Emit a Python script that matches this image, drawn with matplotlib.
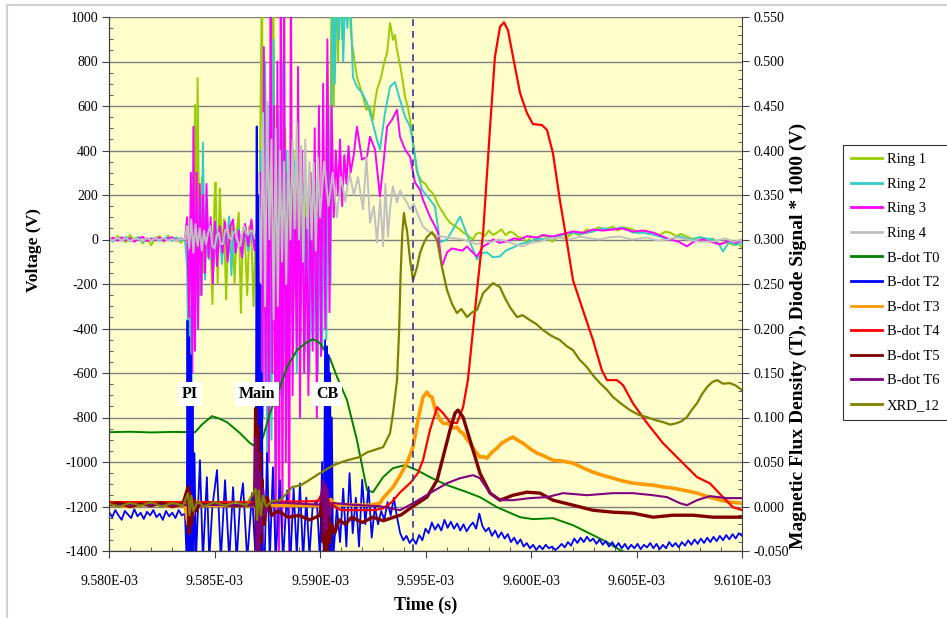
import numpy as np
import matplotlib
matplotlib.use('Agg')
import matplotlib.pyplot as plt
from matplotlib.ticker import MultipleLocator, FuncFormatter
from matplotlib.lines import Line2D

plt.rcParams['font.family'] = ['Liberation Serif', 'DejaVu Serif']
plt.rcParams['axes.unicode_minus'] = False

# ---------------- data (time in microseconds, rings in V, B-dot/XRD in T / V*1000) -------------
RING1 = [(9580.0,10),(9580.2,-8),(9580.4,15),(9580.6,2),(9580.8,-12),(9581.0,20),(9581.2,-5),(9581.4,12),(9581.6,-18),(9581.8,8),(9582.0,-25),(9582.2,5),(9582.4,15),(9582.6,-10),(9582.8,18),(9583.0,-5),(9583.2,10),(9583.4,-15),(9583.6,5),
 (9583.7,-60),(9583.8,-300),(9583.9,150),(9584.0,-420),(9584.08,605),(9584.13,-150),(9584.2,726),(9584.3,-250),(9584.4,280),(9584.5,-150),(9584.6,120),(9584.7,-80),(9584.8,60),(9584.9,-290),(9585.0,180),(9585.05,256),(9585.15,-200),(9585.25,230),(9585.35,-60),(9585.45,90),(9585.55,-270),(9585.65,40),(9585.75,-60),(9585.85,80),(9585.95,-200),(9586.05,30),(9586.15,121),(9586.25,-330),(9586.35,50),(9586.45,-20),(9586.55,-250),(9586.65,60),(9586.75,10),(9586.85,-300),(9586.95,20),
 (9587.05,-100),(9587.15,300),(9587.25,1200),(9587.32,-600),(9587.4,700),(9587.5,-900),(9587.6,400),(9587.7,-400),(9587.78,1200),(9587.88,-200),(9587.95,600),(9588.05,-1020),(9588.15,300),(9588.25,-700),(9588.35,500),(9588.45,-500),(9588.55,200),(9588.65,-327),(9588.75,400),(9588.85,-300),(9588.95,250),(9589.05,-250),(9589.15,350),(9589.25,-150),(9589.35,200),(9589.45,-300),(9589.55,300),(9589.65,-100),(9589.75,130),(9589.85,-200),(9589.95,250),(9590.05,-300),
 (9590.15,400),(9590.25,-200),(9590.35,800),(9590.45,-100),(9590.55,1200),(9590.65,600),(9590.75,1200),(9590.85,800),(9590.95,1200),(9591.05,900),(9591.15,1200),(9591.25,1000),(9591.35,1200),(9591.45,950),
 (9591.52,879),(9591.75,731),(9592.04,641),(9592.2,583),(9592.35,600),(9592.51,538),(9592.6,614),(9592.7,672),(9592.9,731),(9593.05,800),(9593.18,838),(9593.32,973),(9593.46,897),(9593.55,920),(9593.65,852),(9593.8,780),(9593.89,731),(9594.03,641),(9594.15,600),(9594.27,538),(9594.41,435),(9594.6,300),(9594.83,260),(9595.0,250),(9595.15,225),(9595.31,211),(9595.45,190),(9595.55,166),(9595.7,140),(9595.83,121),(9596.0,95),(9596.16,76),(9596.4,60),(9596.64,45),(9596.8,30),(9596.97,22),(9597.1,10),(9597.25,0),(9597.4,25),(9597.58,31),(9597.8,15),(9598.0,40),(9598.2,20),(9598.39,31),(9598.6,45),(9598.8,20),(9599.0,35),(9599.15,31),(9599.4,10),(9599.62,9),(9599.8,-15),(9600.0,15),(9600.3,0),(9600.5,20),(9600.76,9),(9601.0,-10),(9601.3,15),(9601.5,5),(9601.71,9),(9602.0,30),(9602.3,20),(9602.65,45),(9602.9,35),(9603.2,55),(9603.5,45),(9603.89,58),(9604.1,40),(9604.4,55),(9604.83,45),(9605.1,30),(9605.4,40),(9605.78,31),(9606.1,20),(9606.35,35),(9606.59,31),(9606.9,15),(9607.1,25),(9607.39,13),(9607.7,0),(9608.0,10),(9608.34,-9),(9608.6,5),(9608.9,-20),(9609.29,-13),(9609.6,-25),(9609.8,-15),(9610.0,-36)]

RING2 = [(9580.0,5),(9580.2,-10),(9580.4,8),(9580.6,-5),(9580.8,12),(9581.0,-8),(9581.2,3),(9581.4,10),(9581.6,-12),(9581.8,6),(9582.0,-4),(9582.2,9),(9582.4,-7),(9582.6,4),(9582.8,11),(9583.0,-6),(9583.2,8),(9583.4,-3),(9583.6,2),
 (9583.7,-120),(9583.78,-704),(9583.85,-300),(9583.92,-650),(9584.0,50),(9584.08,-500),(9584.15,150),(9584.22,-350),(9584.3,180),(9584.38,-250),(9584.45,435),(9584.55,-180),(9584.65,120),(9584.75,-90),(9584.85,60),(9584.95,-140),(9585.05,80),(9585.15,-60),(9585.25,50),(9585.35,-110),(9585.45,30),(9585.55,-20),(9585.7,103),(9585.8,-160),(9585.9,40),(9586.0,-60),(9586.15,50),(9586.3,-80),(9586.45,40),(9586.6,-50),(9586.75,30),(9586.9,-40),(9587.0,20),
 (9587.1,-300),(9587.2,400),(9587.3,-800),(9587.4,800),(9587.5,-1100),(9587.6,600),(9587.7,-900),(9587.8,897),(9587.9,-1100),(9588.0,600),(9588.1,-700),(9588.2,800),(9588.3,-500),(9588.4,400),(9588.5,-800),(9588.6,300),(9588.7,-400),(9588.8,350),(9588.9,-600),(9589.0,200),(9589.1,-300),(9589.2,250),(9589.3,-500),(9589.4,150),(9589.5,-600),(9589.6,100),(9589.7,-450),(9589.8,200),(9589.9,-600),(9590.0,100),(9590.1,-500),(9590.2,300),(9590.3,-448),(9590.4,600),(9590.5,-200),(9590.6,1200),(9590.7,700),(9590.8,1200),(9590.9,900),(9591.0,1200),(9591.1,800),(9591.2,1100),(9591.3,950),(9591.4,1200),
 (9591.56,731),(9591.75,686),(9591.99,659),(9592.23,614),(9592.46,538),(9592.7,448),(9592.84,404),(9593.08,569),(9593.32,686),(9593.55,708),(9593.79,628),(9594.03,552),(9594.27,507),(9594.41,435),(9594.6,314),(9594.83,224),(9595.21,179),(9595.45,148),(9595.69,-13),(9596.02,0),(9596.3,45),(9596.64,103),(9596.87,45),(9597.11,-13),(9597.44,-90),(9597.7,-60),(9597.91,-58),(9598.2,-80),(9598.53,-76),(9598.8,-50),(9599.15,-36),(9599.5,-20),(9599.95,-9),(9600.3,5),(9600.7,0),(9601.04,13),(9601.5,20),(9601.99,31),(9602.4,25),(9602.94,36),(9603.4,50),(9603.89,45),(9604.3,55),(9604.83,31),(9605.3,30),(9605.78,22),(9606.2,10),(9606.59,0),(9607.0,15),(9607.54,0),(9608.0,10),(9608.63,0),(9608.9,-20),(9609.1,-54),(9609.4,-10),(9609.7,-25),(9610.0,-13)]

RING3 = [(9580.0,0),(9580.2,8),(9580.4,-6),(9580.6,10),(9580.8,-4),(9581.0,6),(9581.2,-10),(9581.4,4),(9581.6,12),(9581.8,-8),(9582.0,5),(9582.2,-3),(9582.4,9),(9582.6,-6),(9582.8,4),(9583.0,10),(9583.2,-8),(9583.4,6),(9583.6,-2),
 (9583.7,100),(9583.8,-350),(9583.88,300),(9583.95,-600),(9584.0,507),(9584.07,-500),(9584.15,300),(9584.22,-400),(9584.3,250),(9584.38,-250),(9584.45,200),(9584.55,-150),(9584.62,250),(9584.72,-80),(9584.82,100),(9584.92,-200),(9585.02,80),(9585.12,-120),(9585.25,60),(9585.38,-60),(9585.5,80),(9585.62,-100),(9585.75,60),(9585.88,90),(9586.0,-60),(9586.15,40),(9586.3,-80),(9586.45,70),(9586.6,-30),(9586.75,90),(9586.9,-50),(9587.0,40),
 (9587.1,-200),(9587.18,300),(9587.26,-900),(9587.34,865),(9587.42,-700),(9587.5,500),(9587.58,-1000),(9587.66,1200),(9587.74,-600),(9587.82,600),(9587.9,-1400),(9587.98,800),(9588.06,-1450),(9588.14,1100),(9588.22,-1300),(9588.3,1200),(9588.38,-1000),(9588.46,300),(9588.54,-1450),(9588.62,1200),(9588.7,-700),(9588.8,200),(9588.9,-500),(9588.96,776),(9589.05,-800),(9589.15,400),(9589.25,-600),(9589.35,100),(9589.45,-700),(9589.55,300),(9589.65,-500),(9589.75,500),(9589.85,-800),(9589.95,600),(9590.05,-524),(9590.15,700),(9590.25,-400),(9590.35,900),(9590.45,-327),(9590.55,600),(9590.65,100),(9590.75,400),(9590.85,200),(9590.95,450),(9591.05,150),(9591.15,380),(9591.25,250),(9591.35,420),(9591.45,300),(9591.6,380),
 (9591.75,507),(9591.99,359),(9592.23,372),(9592.37,462),(9592.61,404),(9592.84,193),(9592.99,327),(9593.18,507),(9593.41,538),(9593.65,583),(9593.79,462),(9594.03,404),(9594.27,372),(9594.5,256),(9594.74,224),(9594.88,179),(9595.21,103),(9595.45,60),(9595.59,31),(9595.78,-121),(9596.02,-58),(9596.25,-40),(9596.49,-45),(9596.75,-50),(9596.97,-31),(9597.2,-55),(9597.44,-76),(9597.73,-31),(9597.95,-20),(9598.2,0),(9598.5,-15),(9598.86,-9),(9599.2,5),(9599.48,0),(9599.8,15),(9600.28,9),(9600.6,20),(9601.04,13),(9601.5,25),(9601.99,36),(9602.5,30),(9602.94,45),(9603.4,40),(9603.89,45),(9604.3,50),(9604.83,36),(9605.3,40),(9605.78,31),(9606.2,15),(9606.59,0),(9607.0,-10),(9607.39,-31),(9607.7,-10),(9608.15,0),(9608.5,-10),(9608.96,-22),(9609.4,-5),(9609.7,-15),(9610.0,0)]

RING4 = [(9580.0,5),(9580.2,-5),(9580.4,8),(9580.6,-3),(9580.8,6),(9581.0,-8),(9581.2,4),(9581.4,2),(9581.6,-6),(9581.8,7),(9582.0,-4),(9582.2,5),(9582.4,-2),(9582.6,8),(9582.8,-5),(9583.0,3),(9583.2,-7),(9583.4,4),(9583.6,0),
 (9583.7,60),(9583.8,-40),(9583.9,90),(9584.0,-60),(9584.1,70),(9584.2,-30),(9584.3,50),(9584.4,-50),(9584.5,40),(9584.6,-20),(9584.7,30),(9584.8,60),(9584.9,-30),(9585.0,-40),(9585.1,20),(9585.2,30),(9585.3,-20),(9585.4,-20),(9585.5,40),(9585.6,50),(9585.7,10),(9585.8,0),(9585.9,30),(9586.0,40),(9586.1,-10),(9586.2,-30),(9586.3,20),(9586.4,60),(9586.5,30),(9586.6,20),(9586.7,40),(9586.8,40),(9586.9,10),(9587.0,0),
 (9587.1,300),(9587.2,-200),(9587.3,569),(9587.4,-300),(9587.5,620),(9587.6,0),(9587.7,450),(9587.8,-360),(9587.9,500),(9588.0,-300),(9588.1,400),(9588.2,-100),(9588.3,350),(9588.4,-200),(9588.5,400),(9588.6,0),(9588.7,450),(9588.8,50),(9588.9,525),(9589.0,0),(9589.1,420),(9589.2,-100),(9589.3,450),(9589.4,50),(9589.5,350),(9589.6,0),(9589.7,345),(9589.8,-50),(9589.9,370),(9590.0,100),(9590.2,350),(9590.4,150),(9590.6,300),(9590.8,100),(9591.0,280),(9591.2,170),(9591.4,300),(9591.6,200),(9591.8,280),(9592.04,135),(9592.2,372),(9592.37,76),(9592.55,150),(9592.7,-13),(9592.85,180),(9592.99,-31),(9593.1,250),(9593.22,13),(9593.32,135),(9593.45,240),(9593.65,166),(9593.8,220),(9593.93,193),(9594.1,170),(9594.27,135),(9594.45,160),(9594.6,121),(9594.88,58),(9595.1,40),(9595.36,22),(9595.7,15),(9596.02,9),(9596.4,5),(9596.78,0),(9597.1,-10),(9597.44,-22),(9597.8,-5),(9598.06,-13),(9598.5,0),(9598.86,-9),(9599.2,-20),(9599.62,-31),(9600.0,-15),(9600.43,-9),(9600.9,5),(9601.37,9),(9601.8,0),(9602.32,13),(9602.8,5),(9603.27,0),(9603.7,10),(9604.22,13),(9604.8,0),(9605.5,9),(9606.0,-5),(9606.45,0),(9606.9,10),(9607.39,0),(9608.0,-10),(9608.63,-9),(9609.2,5),(9609.6,-10),(9610.0,0)]

T0 = [(9580.0,0.0835),(9581.0,0.0840),(9582.0,0.0832),(9583.0,0.0838),(9584.08,0.0835),(9584.4,0.092),(9584.88,0.1015),(9585.2,0.099),(9585.59,0.0948),(9586.21,0.0824),(9586.68,0.0712),(9587.01,0.0667),(9587.3,0.078),(9587.63,0.105),(9588.1,0.134),(9588.44,0.1566),(9588.91,0.1757),(9589.38,0.1847),(9589.67,0.188),(9590.0,0.1836),(9590.47,0.1667),(9590.81,0.1454),(9591.28,0.1195),(9591.75,0.0746),(9592.23,0.0183),(9592.51,0.0161),(9592.99,0.033),(9593.46,0.0431),(9594.03,0.0464),(9594.6,0.0408),(9595.21,0.033),(9596.02,0.024),(9596.97,0.0161),(9597.58,0.0105),(9598.39,-0.0008),(9599.48,-0.012),(9600.09,-0.0142),(9601.04,-0.0131),(9601.99,-0.021),(9602.94,-0.0322),(9603.6,-0.040),(9604.22,-0.049),(9604.93,-0.056),(9610.0,-0.08)]

T2_BASE = [-0.006,-0.012,-0.004,-0.010,-0.015,-0.005,-0.009,-0.013,-0.003,-0.011,-0.007,-0.014,-0.006,-0.010,-0.004,-0.012,-0.008,-0.015,-0.005,-0.011,-0.007,-0.013,-0.004,-0.010,-0.008]
T2_BURST = [(9583.68,-0.06),(9583.72,0.209),(9583.76,-0.06),(9583.80,0.19),(9583.84,-0.06),(9583.88,0.17),(9583.92,-0.06),(9583.96,0.12),(9584.0,-0.06),(9584.05,0.06),(9584.12,-0.06),(9584.31,0.052),(9584.45,-0.06),(9584.64,0.033),(9584.75,-0.06),(9584.9,0.0),(9585.12,0.041),(9585.3,-0.06),(9585.5,0.0296),(9585.7,-0.06),(9585.88,0.0217),(9586.05,-0.06),(9586.2,0.0),(9586.35,0.026),(9586.55,-0.06),(9586.78,0.015),(9586.95,-0.06),
 (9587.0,0.427),(9587.03,-0.06),(9587.07,0.35),(9587.11,-0.06),(9587.15,0.25),(9587.19,-0.06),(9587.24,0.15),(9587.3,-0.06),(9587.38,-0.06),(9587.49,0.06),(9587.62,-0.06),(9587.77,0.044),(9587.9,-0.06),(9588.1,0.0296),(9588.25,-0.06),(9588.44,0.018),(9588.6,-0.06),(9588.75,0.02),(9588.9,-0.055),(9589.05,0.026),(9589.2,-0.06),(9589.35,0.01),(9589.5,-0.055),(9589.65,0.0),(9589.85,0.007),(9590.0,-0.06),
 (9590.1,0.05),(9590.18,-0.06),(9590.24,0.187),(9590.28,-0.06),(9590.32,0.18),(9590.36,-0.06),(9590.40,0.17),(9590.44,-0.06),(9590.48,0.15),(9590.52,-0.06),(9590.56,0.1),(9590.62,-0.06)]
T2_TAIL = [0.0,-0.04,0.02,-0.045,0.0375,-0.03,0.01,-0.045,0.03,-0.02,0.022,-0.035,
 0.0,-0.02,-0.005,-0.015,0.005,-0.01,0.01,
 -0.012,-0.03,-0.038,-0.033,-0.041,-0.036,-0.042,-0.032,
 -0.038,-0.025,-0.03,-0.018,-0.026,-0.02,-0.027,-0.015,-0.024,-0.017,-0.025,-0.019,-0.027,-0.02,-0.028,-0.022,-0.018,-0.025,-0.008,
 -0.022,-0.028,-0.024,-0.033,-0.027,-0.035,-0.029,-0.036,-0.031,-0.04,-0.035,-0.042,-0.037,-0.045,-0.041,-0.047,-0.043,-0.049,-0.044,
 -0.048,-0.043,-0.047,-0.045,-0.049,-0.046,-0.042,-0.046,-0.04,
 -0.044,-0.036,-0.041,-0.035,-0.04,-0.034,-0.039,-0.036,-0.042,-0.037,
 -0.043,-0.039,-0.045,-0.04,-0.046,-0.041,-0.047,-0.042,-0.048,-0.043,-0.047,-0.042,-0.048,-0.043,-0.046,-0.041,-0.047,-0.042,-0.048,-0.043,-0.047,-0.04,-0.045,-0.041,-0.046,
 -0.04,-0.044,-0.038,-0.043,-0.037,-0.042,-0.036,-0.041,-0.035,-0.04,-0.034,-0.039,-0.033,-0.038,-0.032,-0.037,-0.031,-0.036,-0.03,-0.033]

T3 = [(9580.0,0.002),(9581.0,0.0),(9582.0,0.003),(9583.0,0.0),(9583.6,0.002),(9583.75,-0.02),(9583.85,0.012),(9583.95,-0.01),(9584.1,0.005),(9584.3,0.001),(9587.0,0.001),(9587.1,0.015),(9587.2,-0.015),(9587.3,0.01),(9587.45,0.001),(9590.2,0.001),(9590.3,0.012),(9590.4,-0.01),(9590.5,0.008),(9590.7,0.002),(9592.37,0.0015),(9592.84,0.0037),(9592.99,0.0094),(9593.46,0.0217),(9593.8,0.035),(9594.12,0.0487),(9594.41,0.0667),(9594.64,0.097),(9594.88,0.1229),
 (9595.07,0.1285),(9595.2,0.124),(9595.31,0.1229),(9595.45,0.11),(9595.55,0.1049),(9595.7,0.097),(9595.83,0.0937),(9596.0,0.0935),(9596.16,0.0914),(9596.3,0.088),(9596.49,0.0892),(9596.65,0.084),(9596.78,0.0824),(9596.95,0.076),(9597.11,0.0712),(9597.3,0.064),(9597.58,0.0554),(9597.75,0.056),(9597.91,0.0543),(9598.15,0.061),(9598.39,0.0656),(9598.6,0.071),(9598.86,0.0746),(9599.0,0.0765),(9599.15,0.078),(9599.4,0.074),(9599.62,0.0712),(9599.95,0.065),(9600.28,0.06),(9600.6,0.057),(9601.04,0.052),(9601.5,0.051),(9601.99,0.0487),(9602.5,0.043),(9602.94,0.0386),(9603.4,0.035),(9603.89,0.0318),(9604.3,0.029),(9604.83,0.0262),(9605.3,0.025),(9605.78,0.024),(9606.25,0.022),(9606.73,0.0206),(9607.3,0.018),(9607.87,0.015),(9608.25,0.012),(9608.63,0.0094),(9609.0,0.007),(9609.43,0.0049),(9610.0,0.0037)]

T4 = [(9580.0,0.005),(9583.7,0.005),(9583.8,0.012),(9583.9,-0.002),(9584.0,0.005),(9587.0,0.005),(9587.05,0.015),(9587.1,-0.005),(9587.2,0.005),(9589.9,0.006),(9590.1,0.015),(9590.2,-0.008),(9590.3,0.012),(9590.4,-0.005),(9590.5,0.004),(9590.8,-0.002),(9591.0,-0.004),(9592.6,-0.004),(9593.0,-0.002),(9593.4,0.0049),(9593.8,0.016),(9594.3,0.027),(9594.64,0.0375),(9594.88,0.052),(9595.21,0.0858),(9595.55,0.1116),(9595.83,0.105),(9596.16,0.0948),(9596.49,0.0937),(9596.78,0.1116),(9597.01,0.142),(9597.25,0.198),(9597.49,0.254),(9597.73,0.307),(9598.06,0.4264),(9598.29,0.505),(9598.53,0.539),(9598.72,0.544),(9598.91,0.535),(9599.15,0.505),(9599.48,0.4646),(9599.81,0.442),(9600.09,0.4297),(9600.52,0.4286),(9600.76,0.423),(9601.04,0.397),(9601.37,0.344),(9601.71,0.296),(9601.99,0.2544),(9602.46,0.2207),(9602.94,0.187),(9603.36,0.153),(9603.6,0.142),(9604.08,0.142),(9604.36,0.1364),(9604.83,0.116),(9605.5,0.0937),(9606.26,0.071),(9607.06,0.052),(9607.87,0.033),(9608.48,0.026),(9609.1,0.0105),(9609.57,-0.0008),(9610.0,-0.004)]

T5 = [(9580.0,0.002),(9580.5,0.004),(9581.0,0.0),(9581.5,0.003),(9582.0,0.001),(9582.5,0.004),(9583.0,0.0),(9583.5,0.003),(9583.75,0.022),(9583.8,-0.03),(9583.85,0.015),(9583.9,-0.02),(9584.0,0.008),(9584.1,-0.005),(9584.3,0.002),(9585.0,0.003),(9586.0,0.001),(9586.9,0.002),(9586.95,0.11),(9587.0,-0.06),(9587.05,0.09),(9587.1,-0.06),(9587.15,0.06),(9587.2,-0.04),(9587.25,0.03),(9587.35,-0.02),(9587.5,0.01),(9587.7,-0.01),(9588.0,-0.005),(9588.5,-0.012),(9589.0,-0.01),(9589.5,-0.015),(9590.0,-0.01),(9590.1,0.01),(9590.15,-0.04),(9590.2,0.015),(9590.25,-0.055),(9590.3,0.01),(9590.35,-0.06),(9590.4,0.005),(9590.45,-0.04),(9590.55,-0.02),(9590.7,-0.03),(9590.9,-0.015),(9591.2,-0.02),(9591.5,-0.012),(9592.0,-0.018),(9592.5,-0.012),(9593.0,-0.016),(9593.5,-0.012),(9593.85,-0.0093),(9594.41,0.0003),(9595.07,0.0105),(9595.55,0.0296),(9595.83,0.0554),(9596.16,0.0858),(9596.4,0.1049),(9596.54,0.1083),(9596.78,0.1004),(9597.11,0.0746),(9597.58,0.0375),(9598.06,0.015),(9598.53,0.0071),(9599.15,0.0127),(9599.81,0.0161),(9600.43,0.015),(9601.04,0.0071),(9601.99,0.0015),(9602.94,-0.0042),(9603.89,-0.0064),(9604.83,-0.0075),(9605.78,-0.012),(9606.73,-0.0098),(9607.68,-0.0098),(9608.63,-0.012),(9610.0,-0.012)]

T6 = [(9580.0,0.0015),(9582.0,0.002),(9583.7,0.0015),(9583.8,0.008),(9583.9,-0.005),(9584.0,0.002),(9586.9,0.0015),(9586.95,0.078),(9587.0,-0.06),(9587.05,0.06),(9587.1,-0.05),(9587.15,0.04),(9587.2,-0.03),(9587.3,0.02),(9587.4,-0.01),(9587.6,0.005),(9590.0,0.002),(9590.15,0.0296),(9590.2,-0.03),(9590.25,0.025),(9590.3,-0.025),(9590.35,0.02),(9590.45,-0.01),(9590.6,0.004),(9591.5,0.002),(9592.84,0.0003),(9593.79,-0.0042),(9594.41,0.0037),(9595.21,0.015),(9596.02,0.0262),(9596.64,0.0318),(9597.25,0.0352),(9597.58,0.0318),(9598.06,0.015),(9598.53,0.0071),(9599.15,0.0071),(9599.95,0.0094),(9600.76,0.0105),(9601.52,0.015),(9602.65,0.0127),(9603.89,0.015),(9604.83,0.015),(9605.78,0.0127),(9606.45,0.0105),(9607.06,0.0037),(9607.39,0.0015),(9607.87,0.0071),(9608.48,0.0116),(9609.29,0.0094),(9610.0,0.0094)]

XRD = [(9580.0,0.003),(9580.5,0.0),(9581.0,0.004),(9581.5,0.001),(9582.0,0.005),(9582.5,0.0),(9583.0,0.004),(9583.5,0.001),(9583.75,0.015),(9583.82,-0.01),(9583.9,0.012),(9584.0,-0.005),(9584.2,0.006),(9584.5,0.0),(9585.0,0.005),(9585.5,0.001),(9586.0,0.005),(9586.5,0.001),(9586.95,0.02),(9587.02,-0.015),(9587.1,0.018),(9587.2,-0.01),(9587.3,0.012),(9587.45,0.0),(9587.7,0.006),(9588.1,0.0071),(9588.4,0.014),(9588.67,0.0217),(9589.1,0.024),(9589.48,0.0296),(9589.9,0.036),(9590.24,0.0408),(9590.6,0.046),(9591.04,0.05),(9591.45,0.053),(9591.85,0.0554),(9592.25,0.061),(9592.99,0.0667),(9593.32,0.0824),(9593.46,0.1049),(9593.65,0.142),(9593.75,0.198),(9593.82,0.26),(9593.9,0.307),(9593.98,0.3297),(9594.05,0.318),(9594.12,0.3106),(9594.27,0.2769),(9594.41,0.2544),
 (9594.6,0.269),(9594.74,0.2847),(9594.9,0.295),(9595.07,0.3027),(9595.31,0.3083),(9595.55,0.2994),(9595.78,0.269),(9596.02,0.2432),(9596.25,0.228),(9596.49,0.2173),(9596.7,0.222),(9596.97,0.2128),(9597.2,0.218),(9597.44,0.2207),(9597.73,0.2398),(9597.95,0.245),(9598.2,0.251),(9598.53,0.2465),(9598.75,0.235),(9599.0,0.224),(9599.34,0.2128),(9599.6,0.215),(9599.95,0.2094),(9600.25,0.205),(9600.57,0.1982),(9600.95,0.192),(9601.37,0.187),(9601.7,0.18),(9601.99,0.1757),(9602.3,0.165),(9602.65,0.1566),(9602.95,0.147),(9603.27,0.1386),(9603.6,0.131),(9603.89,0.1229),(9604.3,0.115),(9604.69,0.1083),(9605.1,0.103),(9605.5,0.1004),(9605.9,0.097),(9606.26,0.0948),(9606.6,0.092),(9606.92,0.0937),(9607.15,0.096),(9607.39,0.1004),(9607.6,0.108),(9607.87,0.1161),(9608.1,0.126),(9608.34,0.1341),(9608.6,0.14),(9608.82,0.142),(9609.1,0.138),(9609.43,0.1386),(9609.7,0.136),(9610.0,0.1307)]

EVENT_LABELS = ['PI', 'Main', 'CB']
EVENT_TIMES = [9583.84, 9587.01, 9590.33]
EVENT_LEVEL = -695
MARKER_TIME = 9594.41

COLORS = {'Ring 1': '#99CC00', 'Ring 2': '#33CCCC', 'Ring 3': '#FF00FF', 'Ring 4': '#C0C0C0',
          'B-dot T0': '#008000', 'B-dot T2': '#0000FF', 'B-dot T3': '#FF9900', 'B-dot T4': '#FF0000',
          'B-dot T5': '#800000', 'B-dot T6': '#800080', 'XRD_12': '#808000'}

# ---------------- figure -------------
W, H = 947, 618
fig = plt.figure(figsize=(W/100, H/100), dpi=100)
L, R, T, B = 109, 742, 17, 551
ax = fig.add_axes([L/W, 1-B/H, (R-L)/W, (B-T)/H])
ax.set_facecolor('#FFFFCC')
ax2 = ax.twinx()

def split(pairs):
    t, v = zip(*pairs)
    return np.array(t) * 1e-6, np.array(v)

handles = []
for name, data, lw in [('Ring 1', RING1, 1.4), ('Ring 2', RING2, 1.4), ('Ring 3', RING3, 1.4), ('Ring 4', RING4, 1.4)]:
    t, v = split(data)
    h, = ax.plot(t, v, color=COLORS[name], lw=lw, label=name)
    handles.append(h)

t, v = split(T0)
h, = ax2.plot(t, v, color=COLORS['B-dot T0'], lw=1.4, label='B-dot T0'); handles.append(h)

tb = np.linspace(9580.0, 9583.6, len(T2_BASE)) * 1e-6
tt = np.linspace(9590.8, 9610.0, len(T2_TAIL)) * 1e-6
tm, vm = split(T2_BURST)
t2 = np.concatenate([tb, tm, tt]); v2 = np.concatenate([T2_BASE, vm, T2_TAIL])
h, = ax2.plot(t2, v2, color=COLORS['B-dot T2'], lw=1.3, label='B-dot T2'); handles.append(h)

for name, data, lw in [('B-dot T3', T3, 2.6), ('B-dot T4', T4, 1.6), ('B-dot T5', T5, 2.4), ('B-dot T6', T6, 1.5), ('XRD_12', XRD, 1.6)]:
    t, v = split(data)
    h, = ax2.plot(t, v, color=COLORS[name], lw=lw, label=name)
    handles.append(h)

ax2.axvline(MARKER_TIME * 1e-6, color='#333399', ls=(0, (4, 3)), lw=1.2)

for lab, tx in zip(EVENT_LABELS, EVENT_TIMES):
    ax2.text(tx * 1e-6, EVENT_LEVEL, lab, transform=ax.transData, ha='center', va='center',
             fontsize=11.5, fontweight='bold', zorder=20,
             bbox=dict(facecolor='white', edgecolor='none', pad=3))

ax.set_xlim(9.580e-3, 9.610e-3)
ax.set_ylim(-1400, 1000)
ax2.set_ylim(-0.05, 0.55)

ax.xaxis.set_major_locator(MultipleLocator(5e-6))
ax.xaxis.set_minor_locator(MultipleLocator(1e-6))
ax.xaxis.set_major_formatter(FuncFormatter(lambda x, p: f"{x:.3E}"))
ax.yaxis.set_major_locator(MultipleLocator(200))
ax.yaxis.set_minor_locator(MultipleLocator(50))
ax.yaxis.set_major_formatter(FuncFormatter(lambda x, p: f"{x:.0f}"))
ax2.yaxis.set_major_locator(MultipleLocator(0.05))
ax2.yaxis.set_minor_locator(MultipleLocator(0.01))
ax2.yaxis.set_major_formatter(FuncFormatter(lambda x, p: f"{x:.3f}"))

ax.yaxis.grid(True, which='major', color='#7F7F7F', lw=1.0)
ax.set_axisbelow(True)

sc = '#404040'
for a in (ax, ax2):
    a.spines['top'].set_visible(False)
    for s in ('left', 'right', 'bottom'):
        a.spines[s].set_color(sc)
ax.spines['right'].set_visible(False)

ax.tick_params(axis='both', which='major', direction='out', length=5, color=sc, labelsize=10, pad=3)
ax.tick_params(axis='both', which='minor', direction='in', length=3, color=sc)
ax2.tick_params(axis='y', which='major', direction='out', length=5, color=sc, labelsize=10, pad=3)
ax2.tick_params(axis='y', which='minor', direction='in', length=3, color=sc)
ax.tick_params(axis='x', which='major', pad=12)

ax.set_xlabel('Time (s)', fontsize=13, fontweight='bold')
ax.xaxis.label.set_va('center')
ax.xaxis.set_label_coords(0.5, -(605 - B) / (B - T))
ax.set_ylabel('Voltage (V)', fontsize=12.5, fontweight='bold')
ax.yaxis.label.set_va('center')
ax.yaxis.set_label_coords(-(L - 34) / (R - L), (B - 250) / (B - T))
ax2.set_ylabel('Magnetic Flux Density (T), Diode Signal * 1000 (V)', fontsize=14, fontweight='bold')
ax2.yaxis.label.set_va('center')
ax2.yaxis.set_label_coords((798 - L) / (R - L), (B - 336) / (B - T))

labels = [h.get_label() for h in handles]
leg = fig.legend(handles, labels, loc='upper left', bbox_to_anchor=(843/W, 1 - 145/H),
                 frameon=True, fancybox=False, edgecolor='black', fontsize=10.5,
                 handlelength=2.1, handletextpad=0.35, labelspacing=0.78, borderpad=0.55,
                 borderaxespad=0)
leg.get_frame().set_linewidth(0.8)
for lh in leg.get_lines():
    lh.set_linewidth(2.0)

fig.add_artist(Line2D([7/W, 1], [1 - 5/H, 1 - 5/H], transform=fig.transFigure, color='#D0D0D0', lw=1.5))
fig.add_artist(Line2D([7/W, 7/W], [0, 1 - 5/H], transform=fig.transFigure, color='#D0D0D0', lw=1.5))

fig.savefig('out.png', dpi=100, facecolor='white')
